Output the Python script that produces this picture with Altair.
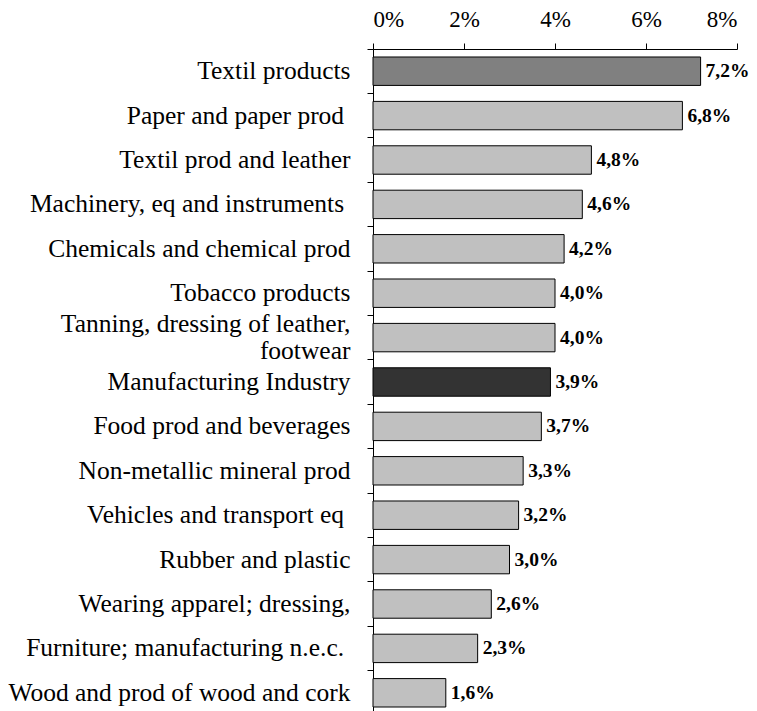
import altair as alt
import pandas as pd

categories = [
    "Textil products",
    "Paper and paper prod\u00a0\u200b",
    "Textil prod and leather",
    "Machinery, eq and instruments\u00a0\u200b",
    "Chemicals and chemical prod",
    "Tobacco products",
    "Tanning, dressing of leather,|footwear",
    "Manufacturing Industry",
    "Food prod and beverages",
    "Non-metallic mineral prod",
    "Vehicles and transport eq\u00a0\u200b",
    "Rubber and plastic",
    "Wearing apparel; dressing,",
    "Furniture; manufacturing n.e.c.\u00a0\u200b",
    "Wood and prod of wood and cork",
]
values = [7.2, 6.8, 4.8, 4.6, 4.2, 4.0, 4.0, 3.9, 3.7, 3.3, 3.2, 3.0, 2.6, 2.3, 1.6]
value_labels = ["7,2%", "6,8%", "4,8%", "4,6%", "4,2%", "4,0%", "4,0%", "3,9%",
                "3,7%", "3,3%", "3,2%", "3,0%", "2,6%", "2,3%", "1,6%"]
groups = ["top", "other", "other", "other", "other", "other", "other", "total",
          "other", "other", "other", "other", "other", "other", "other"]
x_ticks = [0, 2, 4, 6, 8]

df = pd.DataFrame({"cat": categories, "val": values, "lab": value_labels, "grp": groups})

FONT = "Liberation Serif"

y_enc = alt.Y(
    "cat:N",
    sort=categories,
    scale=alt.Scale(paddingInner=0, paddingOuter=0),
    axis=alt.Axis(
        title=None,
        bandPosition=0,
        labelExpr="split(datum.label, '|')",
        labelFont=FONT,
        labelFontSize=25.5,
        labelColor="black",
        labelLineHeight=27,
        labelOffset={"condition": {"test": "indexof(datum.value, '|') >= 0", "value": -13.5}, "value": 0},
        labelPadding=17,
        labelLimit=400,
        tickSize=6,
        tickColor="black",
        domainColor="black",
        grid=False,
    ),
)

x_enc = alt.X(
    "val:Q",
    scale=alt.Scale(domain=[0, 8], nice=False),
    axis=alt.Axis(
        title=None,
        orient="top",
        values=x_ticks,
        labelExpr="datum.value + '%'",
        labelFont=FONT,
        labelFontSize=23,
        labelColor="black",
        labelPadding=12,
        tickSize=6,
        tickColor="black",
        domainColor="black",
        grid=False,
    ),
)

bars = alt.Chart(df).mark_bar(
    height={"band": 0.64}, stroke="black", strokeWidth=1
).encode(
    y=y_enc,
    x=x_enc,
    color=alt.Color(
        "grp:N",
        scale=alt.Scale(domain=["top", "other", "total"], range=["#808080", "#c0c0c0", "#333333"]),
        legend=None,
    ),
)

texts = alt.Chart(df).mark_text(
    align="left", baseline="middle", dx=5, font=FONT, fontWeight="bold", fontSize=19.5, color="black"
).encode(
    y=alt.Y("cat:N", sort=categories),
    x="val:Q",
    text="lab:N",
)

chart = alt.layer(bars, texts).properties(
    width=364,
    height=666,
    autosize=alt.AutoSizeParams(type="none"),
    padding={"left": 365, "top": 41, "right": 12, "bottom": 0},
).configure(background="white").configure_view(strokeWidth=0)

chart.save("out.html", embed_options={"renderer": "svg", "actions": False})
